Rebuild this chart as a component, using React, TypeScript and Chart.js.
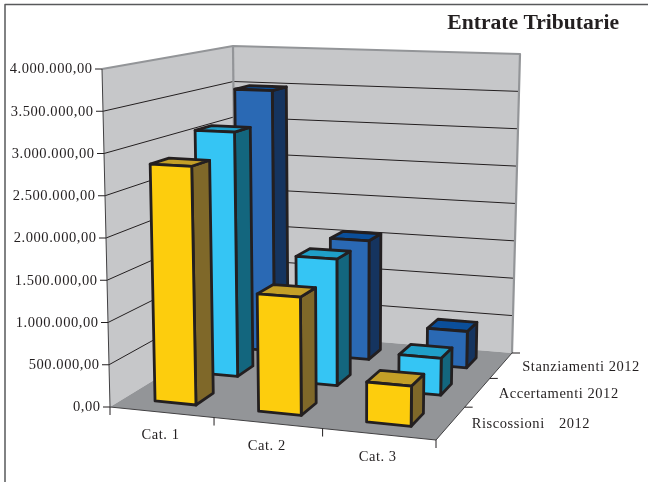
import React, { useEffect, useRef } from "react";
import { Chart, registerables } from "chart.js";

Chart.register(...registerables);

const categories = ["Cat. 1", "Cat. 2", "Cat. 3"];
const seriesNames = ["Riscossioni 2012", "Accertamenti 2012", "Stanziamenti 2012"];
const riscossioni = [2840000, 1380000, 460000];
const accertamenti = [3090000, 1570000, 450000];
const stanziamenti = [3490000, 1560000, 470000];
const yTickLabels = [
  "0,00",
  "500.000,00",
  "1.000.000,00",
  "1.500.000,00",
  "2.000.000,00",
  "2.500.000,00",
  "3.000.000,00",
  "3.500.000,00",
  "4.000.000,00",
];

type Pt = [number, number];

const INK = "#231f20";
const WALL = "#c6c7c9";
const FLOOR = "#939598";
const FACE = ["#fdcd0d", "#35c5f4", "#2a69b4"];
const SIDE = ["#7f6829", "#13667e", "#15345f"];
const LID = ["#c49f27", "#1f9fc8", "#0b4f9a"];

// Homography taking the unit square onto a quadrilateral (a: 0,0  b: 1,0  c: 1,1  d: 0,1).
function quadMap(a: Pt, b: Pt, c: Pt, d: Pt) {
  const dx1 = b[0] - c[0];
  const dx2 = d[0] - c[0];
  const sx = a[0] - b[0] + c[0] - d[0];
  const dy1 = b[1] - c[1];
  const dy2 = d[1] - c[1];
  const sy = a[1] - b[1] + c[1] - d[1];
  const det = dx1 * dy2 - dx2 * dy1;
  const g = (sx * dy2 - dx2 * sy) / det;
  const h = (dx1 * sy - sx * dy1) / det;
  const m00 = b[0] - a[0] + g * b[0];
  const m01 = d[0] - a[0] + h * d[0];
  const m10 = b[1] - a[1] + g * b[1];
  const m11 = d[1] - a[1] + h * d[1];
  return (u: number, v: number): Pt => {
    const w = g * u + h * v + 1;
    return [(m00 * u + m01 * v + a[0]) / w, (m10 * u + m11 * v + a[1]) / w];
  };
}

// Camera of the 3D view: floor and ceiling of the plot cube.
const floorMap = quadMap([110, 407], [436, 440], [512, 353], [236, 330]);
const ceilMap = quadMap([102, 69], [441, 81], [520, 54], [233, 46]);

function project(u: number, v: number, h: number): Pt {
  const f = floorMap(u, v);
  const c = ceilMap(u, v);
  return [f[0] + (c[0] - f[0]) * h, f[1] + (c[1] - f[1]) * h];
}

const BAR_HALF_U = 0.2;
const BAR_HALF_V = 0.2;
const OUTLINE = 2.8;

function poly(ctx: CanvasRenderingContext2D, pts: Pt[], fill: string | null, stroke: string | null, lw = 1) {
  ctx.beginPath();
  pts.forEach((p, i) => (i ? ctx.lineTo(p[0], p[1]) : ctx.moveTo(p[0], p[1])));
  if (fill) {
    ctx.closePath();
    ctx.fillStyle = fill;
    ctx.fill();
  }
  if (stroke) {
    ctx.strokeStyle = stroke;
    ctx.lineWidth = lw;
    ctx.lineJoin = "round";
    ctx.stroke();
  }
}

function label(ctx: CanvasRenderingContext2D, text: string, x: number, y: number, align: CanvasTextAlign, gap = 0) {
  ctx.font = '14.5px "Liberation Serif"';
  (ctx as any).letterSpacing = "0.55px";
  (ctx as any).wordSpacing = `${gap}px`;
  ctx.textAlign = align;
  ctx.textBaseline = "middle";
  ctx.fillStyle = INK;
  ctx.fillText(text, x, y);
  (ctx as any).letterSpacing = "0px";
  (ctx as any).wordSpacing = "0px";
}

const cube3d = {
  id: "cube3d",
  afterDraw(chart: any) {
    const { ctx, scales } = chart;
    const yScale = scales.y;
    const xScale = scales.x;
    const zScale = scales.depth;
    const hOf = (val: number) => yScale.getDecimalForPixel(yScale.getPixelForValue(val));
    const uOf = (i: number) => xScale.getDecimalForPixel(xScale.getPixelForValue(i));
    const vOf = (i: number) => zScale.getDecimalForPixel(zScale.getPixelForValue(i));

    ctx.save();

    // page frame
    poly(ctx, [[5, 482], [5, 4.5], [648, 4.5]], null, "#58595b", 1.5);

    // walls and floor
    poly(ctx, [project(0, 0, 0), project(0, 1, 0), project(0, 1, 1), project(0, 0, 1)], WALL, null);
    poly(ctx, [project(0, 1, 0), project(1, 1, 0), project(1, 1, 1), project(0, 1, 1)], WALL, null);
    poly(ctx, [project(0, 0, 0), project(1, 0, 0), project(1, 1, 0), project(0, 1, 0)], FLOOR, null);

    // gridlines follow the value scale across both walls
    yScale.ticks.forEach((t: any) => {
      const h = hOf(t.value);
      if (h > 0 && h < 1) {
        poly(ctx, [project(0, 0, h), project(0, 1, h), project(1, 1, h)], null, INK, 1);
      }
    });

    // wall borders
    poly(ctx, [project(0, 0, 1), project(0, 1, 1), project(1, 1, 1), project(1, 1, 0)], null, FLOOR, 2.2);
    poly(ctx, [project(0, 1, 1), project(0, 1, 0)], null, FLOOR, 2.2);

    // bars, furthest row first
    const rows = chart.data.datasets.map((ds: any, s: number) => ({ ds, s })).reverse();
    rows.forEach(({ ds, s }: any) => {
      ds.data.forEach((val: number, i: number) => {
        const u0 = uOf(i) - BAR_HALF_U / categories.length;
        const u1 = uOf(i) + BAR_HALF_U / categories.length;
        const v0 = vOf(s) - BAR_HALF_V / seriesNames.length;
        const v1 = vOf(s) + BAR_HALF_V / seriesNames.length;
        const h = hOf(val);
        poly(ctx, [project(u1, v0, 0), project(u1, v1, 0), project(u1, v1, h), project(u1, v0, h)], SIDE[s], INK, OUTLINE);
        poly(ctx, [project(u0, v0, h), project(u1, v0, h), project(u1, v1, h), project(u0, v1, h)], LID[s], INK, OUTLINE);
        poly(ctx, [project(u0, v0, 0), project(u1, v0, 0), project(u1, v0, h), project(u0, v0, h)], FACE[s], INK, OUTLINE);
      });
    });

    // axes and tick marks
    poly(ctx, [project(0, 0, 1), project(0, 0, 0), project(1, 0, 0), project(1, 1, 0)], null, "#414042", 1);
    yScale.ticks.forEach((t: any) => {
      const p = project(0, 0, hOf(t.value));
      poly(ctx, [p, [p[0] - 7, p[1]]], null, INK, 1);
      label(ctx, t.label, p[0] - 9.5, p[1] + 0.5, "right");
    });
    [0, 1, 2, 3].forEach((k) => {
      const p = project(k / categories.length, 0, 0);
      poly(ctx, [p, [p[0], p[1] + 8]], null, INK, 1);
    });
    [1, 2, 3].forEach((k) => {
      const p = project(1, k / seriesNames.length, 0);
      poly(ctx, [p, [p[0] + 8, p[1]]], null, INK, 1);
    });

    // category and series names sit beside the floor edges
    categories.forEach((c, i) => {
      const p = project(uOf(i), 0, 0);
      label(ctx, c, p[0] - 1, p[1] + 23, "center");
    });
    seriesNames.forEach((n, s) => {
      const p = project(1, vOf(s), 0);
      label(ctx, n, p[0] + 21, p[1] + 1.5, "left", s === 0 ? 10 : 0);
    });

    ctx.restore();
  },
};

export default function App() {
  const ref = useRef<HTMLCanvasElement>(null);
  useEffect(() => {
    const chart = new Chart(ref.current!, {
      type: "bar",
      data: {
        labels: categories,
        datasets: [riscossioni, accertamenti, stanziamenti].map((data, s) => ({
          label: seriesNames[s],
          data,
          backgroundColor: "rgba(0,0,0,0)",
        })),
      },
      options: {
        responsive: false,
        animation: false,
        layout: { padding: { top: 10, right: 29 } },
        plugins: {
          legend: { display: false },
          tooltip: { enabled: false },
          title: {
            display: true,
            text: "Entrate Tributarie",
            align: "end",
            color: INK,
            padding: 0,
            font: { family: '"Liberation Serif"', size: 21.6, weight: "bold" },
          },
        },
        scales: {
          x: { display: false, offset: true },
          depth: { type: "category", axis: "x", labels: seriesNames, position: "top", display: false, offset: true },
          y: {
            display: false,
            min: 0,
            max: 4000000,
            ticks: { stepSize: 500000, callback: (_v: any, i: number) => yTickLabels[i] },
          },
        },
      },
      plugins: [cube3d],
    } as any);
    return () => chart.destroy();
  }, []);
  return (
    <div style={{ position: "absolute", left: 0, top: 0, width: 648, height: 482, background: "#fff" }}>
      <canvas ref={ref} width={648} height={482} style={{ display: "block" }} />
    </div>
  );
}
